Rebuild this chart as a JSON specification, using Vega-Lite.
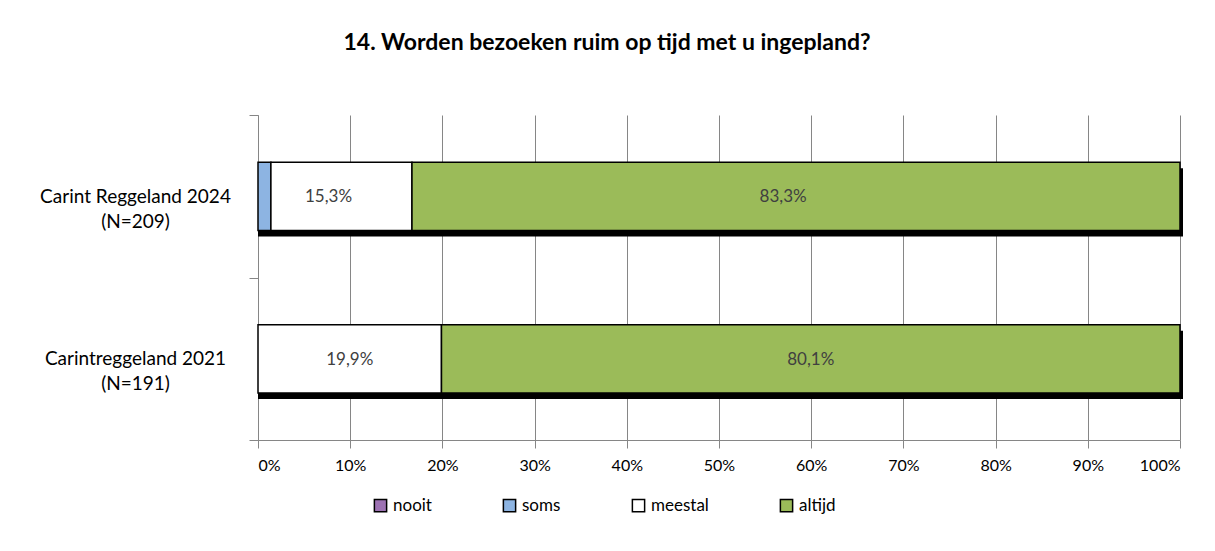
{
  "$schema": "https://vega.github.io/schema/vega-lite/v6.json",
  "autosize": {"type": "none"},
  "width": 922,
  "height": 325,
  "padding": {"left": 258, "top": 115, "right": 35, "bottom": 111},
  "background": "white",
  "config": {
    "font": "Lato",
    "view": {"stroke": null},
    "locale": {"number": {"decimal": ",", "thousands": ".", "grouping": [3], "currency": ["€", ""]}}
  },
  "title": {
    "text": "14. Worden bezoeken ruim op tijd met u ingepland?",
    "fontSize": 23,
    "fontWeight": "bold",
    "color": "#000000",
    "anchor": "middle",
    "dx": -112,
    "offset": 51
  },
  "data": {
    "values": [
      {"groep": "Carint Reggeland 2024|(N=209)", "antwoord": "nooit", "waarde": 0.0},
      {"groep": "Carint Reggeland 2024|(N=209)", "antwoord": "soms", "waarde": 0.014},
      {"groep": "Carint Reggeland 2024|(N=209)", "antwoord": "meestal", "waarde": 0.153},
      {"groep": "Carint Reggeland 2024|(N=209)", "antwoord": "altijd", "waarde": 0.833},
      {"groep": "Carintreggeland 2021|(N=191)", "antwoord": "nooit", "waarde": 0.0},
      {"groep": "Carintreggeland 2021|(N=191)", "antwoord": "soms", "waarde": 0.0},
      {"groep": "Carintreggeland 2021|(N=191)", "antwoord": "meestal", "waarde": 0.199},
      {"groep": "Carintreggeland 2021|(N=191)", "antwoord": "altijd", "waarde": 0.801}
    ]
  },
  "transform": [
    {"calculate": "indexof(['nooit','soms','meestal','altijd'], datum.antwoord)", "as": "volgorde"}
  ],
  "encoding": {
    "y": {
      "field": "groep",
      "type": "nominal",
      "sort": null,
      "scale": {"paddingInner": 0, "paddingOuter": 0},
      "axis": {
        "title": null,
        "labelExpr": "split(datum.label, '|')",
        "labelAlign": "center",
        "labelBaseline": "middle",
        "labelPadding": 114,
        "labelLimit": 0,
        "labelFontSize": 19,
        "labelColor": "#000000",
        "labelLineHeight": 25,
        "tickBand": "extent",
        "tickSize": 9,
        "tickColor": "#868686",
        "domainColor": "#868686",
        "grid": false
      }
    }
  },
  "layer": [
    {
      "mark": {"type": "bar", "color": "#000000", "xOffset": 3, "yOffset": 6, "clip": false, "height": {"band": 0.42}},
      "encoding": {
        "x": {"aggregate": "sum", "field": "waarde", "type": "quantitative", "scale": {"domain": [0, 1]}}
      }
    },
    {
      "transform": [{"filter": "datum.waarde > 0"}],
      "mark": {"type": "bar", "stroke": "#000000", "strokeWidth": 1.5, "height": {"band": 0.42}},
      "encoding": {
        "x": {
          "field": "waarde",
          "type": "quantitative",
          "stack": "zero",
          "scale": {"domain": [0, 1]},
          "axis": {
            "title": null,
            "format": ".0%",
            "values": [0, 0.1, 0.2, 0.3, 0.4, 0.5, 0.6, 0.7, 0.8, 0.9, 1],
            "grid": true,
            "gridColor": "#868686",
            "gridWidth": 1,
            "tickColor": "#868686",
            "tickSize": 8,
            "domainColor": "#868686",
            "labelFontSize": 16,
            "labelColor": "#000000",
            "labelPadding": 9
          }
        },
        "order": {"field": "volgorde", "type": "quantitative"},
        "color": {
          "field": "antwoord",
          "type": "nominal",
          "scale": {
            "domain": ["nooit", "soms", "meestal", "altijd"],
            "range": ["#9D72B3", "#8DB4E2", "#FFFFFF", "#9BBB59"]
          },
          "legend": {
            "title": null,
            "orient": "none",
            "direction": "horizontal",
            "legendX": 114,
            "legendY": 382,
            "symbolType": "square",
            "symbolSize": 150,
            "symbolStrokeColor": "#000000",
            "symbolStrokeWidth": 1.5,
            "symbolOpacity": 1,
            "labelFontSize": 17,
            "labelColor": "#000000",
            "labelOffset": 4,
            "columnPadding": 68
          }
        }
      }
    },
    {
      "transform": [{"filter": "datum.waarde > 0.05"}],
      "mark": {"type": "text", "fontSize": 17, "color": "#404040", "dy": 1},
      "encoding": {
        "x": {"field": "waarde", "type": "quantitative", "stack": "zero", "bandPosition": 0.5},
        "order": {"field": "volgorde", "type": "quantitative"},
        "detail": {"field": "antwoord"},
        "text": {"field": "waarde", "type": "quantitative", "format": ".1%"}
      }
    }
  ]
}
